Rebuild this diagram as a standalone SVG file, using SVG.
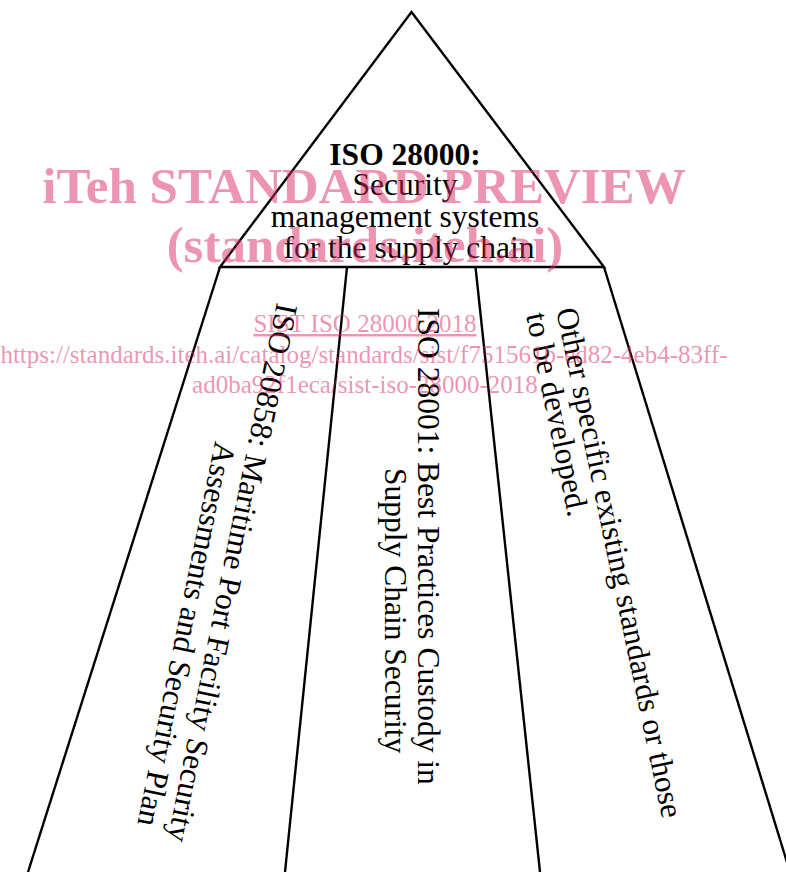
<svg xmlns="http://www.w3.org/2000/svg" width="786" height="872" viewBox="0 0 786 872">
<style>
.ln{fill:none;stroke:#000;stroke-width:2.4;stroke-linejoin:miter}
.t{font-family:"Liberation Serif","Times New Roman",serif;font-size:31.5px;fill:#000}
.b{font-weight:bold}
.wm{font-family:"Liberation Serif","Times New Roman",serif;fill:#dc2a64;fill-opacity:0.5;text-anchor:middle}
</style>
<rect width="786" height="872" fill="#fff"/>
<g id="iso28000">
<polygon class="ln" points="411.5,12 604,267 220,267"/>
<text class="t" text-anchor="middle">
<tspan class="b" x="409" y="164.5">ISO 28000:</tspan>
<tspan x="409" y="195">Security</tspan>
<tspan x="409" y="226.7">management systems</tspan>
<tspan x="409" y="258.3">for the supply chain</tspan>
</text>
</g>
<g id="connectors">
<line class="ln" x1="220" y1="267" x2="28" y2="872"/>
<line class="ln" x1="347" y1="267" x2="285" y2="872"/>
<line class="ln" x1="475.5" y1="267" x2="540" y2="872"/>
<line class="ln" x1="604" y1="267" x2="790" y2="872"/>
</g>
<g id="iso20858">
<text class="t" transform="translate(277,302) rotate(101.5)">ISO 20858: Maritime Port Facility Security</text>
<text class="t" transform="translate(215.3,440.6) rotate(101.5)">Assessments and Security Plan</text>
</g>
<g id="iso28001">
<text class="t" transform="translate(418,308) rotate(90)">ISO 28001: Best Practices Custody in</text>
<text class="t" transform="translate(385,468) rotate(90)">Supply Chain Security</text>
</g>
<g id="other">
<text class="t" transform="translate(556,310) rotate(78.2)">Other specific existing standards or those</text>
<text class="t" transform="translate(526,315) rotate(78.2)">to be developed.</text>
</g>
<g id="watermark">
<text class="wm" x="364" y="203" font-size="51" font-weight="bold">iTeh STANDARD PREVIEW</text>
<text class="wm" x="365" y="262" font-size="51" font-weight="bold">(standards.iteh.ai)</text>
<text class="wm" x="365" y="332" font-size="25" text-decoration="underline">SIST ISO 28000:2018</text>
<text class="wm" x="364" y="363" font-size="25">https://standards.iteh.ai/catalog/standards/sist/f751561b-ed82-4eb4-83ff-</text>
<text class="wm" x="365" y="393" font-size="25">ad0ba92f1eca/sist-iso-28000-2018</text>
</g>
</svg>
